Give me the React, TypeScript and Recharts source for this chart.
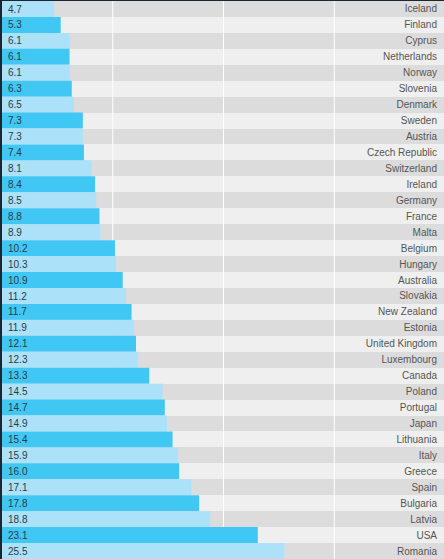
import { BarChart, Bar, XAxis, YAxis, Cell, LabelList, CartesianGrid } from "recharts"

// countries top to bottom, as in the picture
const countries = [
  "Iceland", "Finland", "Cyprus", "Netherlands", "Norway", "Slovenia", "Denmark",
  "Sweden", "Austria", "Czech Republic", "Switzerland", "Ireland", "Germany", "France",
  "Malta", "Belgium", "Hungary", "Australia", "Slovakia", "New Zealand", "Estonia",
  "United Kingdom", "Luxembourg", "Canada", "Poland", "Portugal", "Japan", "Lithuania",
  "Italy", "Greece", "Spain", "Bulgaria", "Latvia", "USA", "Romania",
]

const rates = [
  4.7, 5.3, 6.1, 6.1, 6.1, 6.3, 6.5,
  7.3, 7.3, 7.4, 8.1, 8.4, 8.5, 8.8,
  8.9, 10.2, 10.3, 10.9, 11.2, 11.7, 11.9,
  12.1, 12.3, 13.3, 14.5, 14.7, 14.9, 15.4,
  15.9, 16.0, 17.1, 17.8, 18.8, 23.1, 25.5,
]

const xTicks = [0, 10, 20, 30, 40]

const barColors = ["#abe2fa", "#40c7f3"]
const stripeColors = ["#dcdcdc", "#efefef"]

const CountryTick = (props: any) => (
  <text x={props.x} y={props.y} dy={3.5} textAnchor="end" fontSize={10} fill="#555">
    {props.payload.value}
  </text>
)

export default function App() {
  const data = countries.map((country, i) => ({ country, rate: rates[i] }))

  // band edges of the category rows, so the stripes sit behind each row
  const rowEdges = ({ offset }: any) => {
    const step = offset.height / countries.length
    return countries.map((_, i) => offset.top + i * step)
  }

  return (
    <div
      style={{
        position: "fixed",
        top: 0,
        left: 0,
        width: 444,
        height: 559,
        overflow: "hidden",
        background: "#e6e6e6",
        fontFamily: "'Liberation Sans', Arial, sans-serif",
      }}
    >
      <BarChart
        width={445}
        height={559}
        data={data}
        layout="vertical"
        margin={{ top: 1, right: 0, bottom: 0, left: 2 }}
        barCategoryGap={0}
      >
        <CartesianGrid
          vertical={false}
          stroke="none"
          horizontalCoordinatesGenerator={rowEdges}
          horizontalFill={stripeColors}
          fillOpacity={1}
        />
        <CartesianGrid horizontal={false} stroke="#fff" strokeWidth={1} />
        <XAxis type="number" domain={[0, 40]} ticks={xTicks} hide />
        <YAxis
          type="category"
          dataKey="country"
          orientation="right"
          mirror
          axisLine={false}
          tickLine={false}
          interval={0}
          tick={<CountryTick />}
        />
        <Bar dataKey="rate" isAnimationActive={false}>
          {data.map((d, i) => (
            <Cell key={d.country} fill={barColors[i % 2]} />
          ))}
          <LabelList
            dataKey="rate"
            position="insideLeft"
            offset={6}
            formatter={(v: number) => v.toFixed(1)}
            style={{ fontSize: 10, fill: "#2c3a48" }}
          />
        </Bar>
      </BarChart>
      <div style={{ position: "absolute", top: 0, left: 0, width: 2, height: 559, background: "#1c2630" }} />
      <div style={{ position: "absolute", top: 0, left: 0, width: 444, height: 1, background: "#1c2630" }} />
    </div>
  )
}
